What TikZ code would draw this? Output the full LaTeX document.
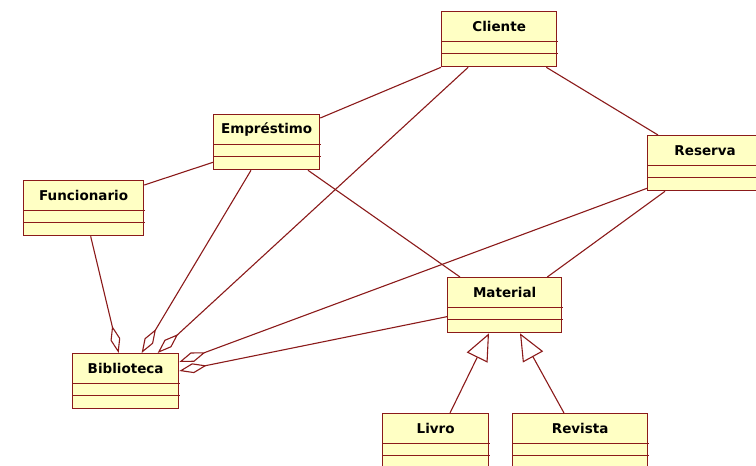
\documentclass[tikz,border=0pt]{standalone}
\usepackage{fontspec}
\setmainfont{DejaVu Sans}
\usetikzlibrary{arrows.meta,calc}
\definecolor{umlline}{RGB}{139,26,26}
\definecolor{umlfill}{RGB}{255,255,196}
\tikzset{
  classbox/.style={draw=umlline, fill=umlfill, line width=1.3pt, inner sep=0pt,
                   minimum height=55pt, anchor=north west},
  classname/.style={font=\bfseries\fontsize{13.5}{15}\selectfont, inner sep=0pt},
  compart/.style={draw=umlline, line width=1pt},
  assoc/.style={draw=umlline, line width=1.1pt},
  aggr/.style={assoc, -{Diamond[open, length=28pt, width=10pt]}},
  gener/.style={assoc, -{Triangle[open, length=27pt, width=23pt]}},
}
% class box: name, x, y (top left), width, title
\newcommand\umlclass[5]{%
  \node[classbox, minimum width=#4pt] (#1) at (#2,#3) {};
  \node[classname] (#1-name) at ($(#1.north)+(0,15.5)$) {#5};
  \draw[compart] ($(#1.north west)+(0,30.5)$) -- ++(#4+2,0);
  \draw[compart] ($(#1.north west)+(0,42.5)$) -- ++(#4+2,0);
}
\begin{document}
\begin{tikzpicture}[x=1pt, y=-1pt]
  \useasboundingbox (0,0) rectangle (756,466);
  \clip (0,0) rectangle (756,466);
  \fill[white] (0,0) rectangle (756,466);

  % classes
  \umlclass{cli}{441}{11}{115}{Cliente}
  \umlclass{emp}{213}{114}{106}{Empréstimo}
  \umlclass{fun}{23}{180}{120}{Funcionario}
  \umlclass{res}{647}{135}{115}{Reserva}
  \umlclass{bib}{72}{353}{106}{Biblioteca}
  \umlclass{mat}{447}{277}{114}{Material}
  \umlclass{liv}{382}{413}{106}{Livro}
  \umlclass{rev}{512}{413}{135}{Revista}

  % associations
  \draw[assoc] (cli.south west) -- ($(emp.north east)+(0,4)$);
  \draw[assoc] ($(cli.south east)+(-11,0)$) -- ($(res.north west)+(11,0)$);
  \draw[assoc] ($(emp.south west)+(0,-8)$) -- ($(fun.north east)+(0,5)$);
  \draw[assoc] ($(emp.south west)+(95,0)$) -- ($(mat.north west)+(13,0)$);
  \draw[assoc] ($(res.south west)+(18,0)$) -- ($(mat.north east)+(-15,0)$);

  % aggregations into Biblioteca
  \draw[aggr] ($(fun.south)+(7,0)$) -- ($(bib.north)+(-7,0)$);
  \draw[aggr] ($(emp.south west)+(38,0)$) -- ($(bib.north)+(16,0)$);
  \draw[aggr] ($(cli.south)+(-31,0)$) -- ($(bib.north)+(32,0)$);
  \draw[aggr] ($(res.south west)+(0,-3)$) -- ($(bib.north east)+(0,9)$);
  \draw[aggr] ($(mat.west)+(0,11.5)$) -- ($(bib.north east)+(0,18)$);

  % generalizations
  \draw[gener] ($(liv.north west)+(68,0)$) -- ($(mat.south west)+(42,0)$);
  \draw[gener] ($(rev.north west)+(52,0)$) -- ($(mat.south west)+(73,0)$);
\end{tikzpicture}
\end{document}
